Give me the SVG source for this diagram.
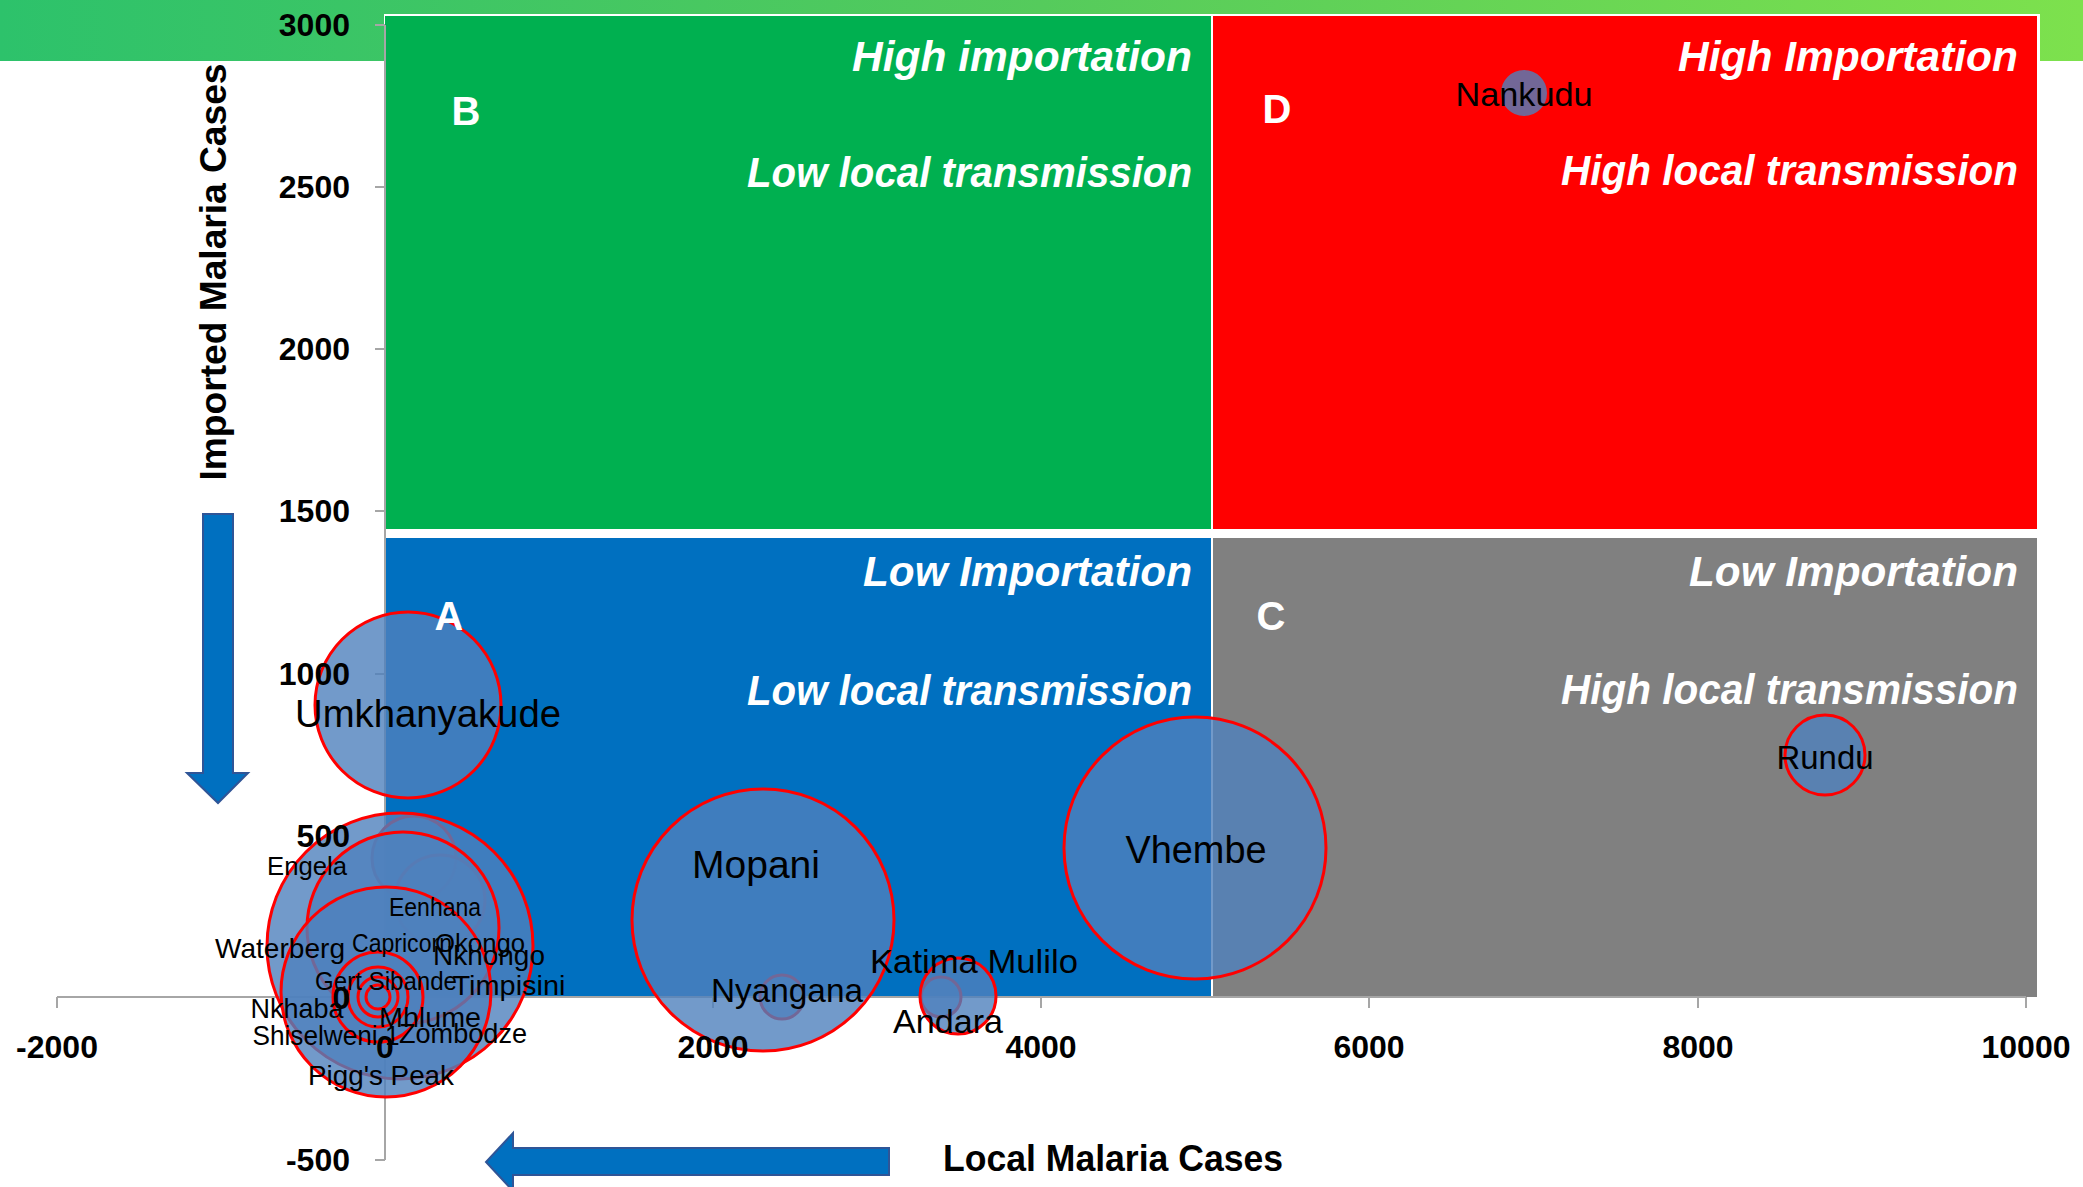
<svg xmlns="http://www.w3.org/2000/svg" width="2083" height="1187" viewBox="0 0 2083 1187">
<style>
.bub{fill:#4F81BD;fill-opacity:0.8;stroke:#FF0000;stroke-width:3}
.ax{stroke:#A6A6A6;stroke-width:2;fill:none}
.tk{font-family:"Liberation Sans",Arial,sans-serif;font-weight:bold;font-size:32px;fill:#000}
.ty{text-anchor:end}
.tx{text-anchor:middle}
.qt{font-family:"Liberation Sans",Arial,sans-serif;font-weight:bold;font-style:italic;font-size:42px;fill:#fff;text-anchor:end}
.ql{font-family:"Liberation Sans",Arial,sans-serif;font-weight:bold;font-size:40px;fill:#fff;text-anchor:middle}
.lb{font-family:"Liberation Sans",Arial,sans-serif;font-size:34px;fill:#000;text-anchor:middle}
.lbb{font-size:38px}
.ls{font-family:"Liberation Sans",Arial,sans-serif;font-size:25px;fill:#000;text-anchor:middle}
.lm{font-size:28px}
.at{font-family:"Liberation Sans",Arial,sans-serif;font-weight:bold;font-size:36px;fill:#000;text-anchor:middle}
.arr{fill:#0070C0;stroke:#2F5597;stroke-width:2}
</style>
<defs>
<linearGradient id="ban" x1="0" y1="0" x2="1" y2="0">
<stop offset="0" stop-color="#2DC26B"/>
<stop offset="0.5" stop-color="#55CB5C"/>
<stop offset="1" stop-color="#7DE14D"/>
</linearGradient>
</defs>
<rect x="0" y="0" width="2083" height="61" fill="url(#ban)"/>
<g id="panel">
<rect x="384" y="14" width="1656" height="984" fill="#fff"/>
<rect id="quadB" x="385" y="16" width="826" height="513" fill="#00B050"/>
<rect id="quadD" x="1213" y="16" width="824" height="513" fill="#FF0000"/>
<rect id="quadA" x="385" y="538" width="826" height="459" fill="#0070C0"/>
<rect id="quadC" x="1213" y="538" width="824" height="459" fill="#808080"/>
</g>
<g id="axis-lines">
<line class="ax" x1="385" y1="25" x2="385" y2="1160"/>
<path class="ax" d="M375 25H385M375 187H385M375 349H385M375 511H385M375 674H385M375 836H385M375 998H385M375 1160H385"/>
<line class="ax" x1="57" y1="997" x2="2026" y2="997"/>
<path class="ax" d="M57 997V1008M385 997V1008M713 997V1008M1041 997V1008M1369 997V1008M1698 997V1008M2026 997V1008"/>
</g>
<g id="bubbles">
<circle id="b-nankudu" class="bub" cx="1524" cy="93" r="24.5"/>
<circle id="b-rundu" class="bub" cx="1825" cy="755" r="40"/>
<circle id="b-vhembe" class="bub" cx="1195" cy="848" r="131"/>
<circle id="b-nyangana" class="bub" cx="782" cy="997" r="22"/>
<circle id="b-mopani" class="bub" cx="763" cy="920" r="131"/>
<circle id="b-andara" class="bub" cx="941" cy="997" r="20"/>
<circle id="b-katima" class="bub" cx="958" cy="996" r="38"/>
<circle id="b-umkhanyakude" class="bub" cx="408" cy="705" r="93"/>
<circle id="b-engela" class="bub" cx="414" cy="858" r="42"/>
<circle id="b-eenhana" class="bub" cx="440" cy="900" r="45"/>
<circle id="b-c1" class="bub" cx="400" cy="946" r="133"/>
<circle id="b-c2" class="bub" cx="403" cy="928" r="96"/>
<circle id="b-c3" class="bub" cx="386" cy="992" r="105"/>
<circle id="b-c4" class="bub" cx="378" cy="997" r="45"/>
<circle id="b-c5" class="bub" cx="378" cy="997" r="30"/>
<circle id="b-c6" class="bub" cx="378" cy="997" r="20"/>
<circle id="b-c7" class="bub" cx="378" cy="997" r="12"/>
</g>
<g id="tick-labels">
<text class="tk ty" x="350" y="36">3000</text>
<text class="tk ty" x="350" y="198">2500</text>
<text class="tk ty" x="350" y="360">2000</text>
<text class="tk ty" x="350" y="522">1500</text>
<text class="tk ty" x="350" y="685">1000</text>
<text class="tk ty" x="350" y="847">500</text>
<text class="tk ty" x="350" y="1009">0</text>
<text class="tk ty" x="350" y="1171">-500</text>
<text class="tk tx" x="57" y="1058">-2000</text>
<text class="tk tx" x="385" y="1058">0</text>
<text class="tk tx" x="713" y="1058">2000</text>
<text class="tk tx" x="1041" y="1058">4000</text>
<text class="tk tx" x="1369" y="1058">6000</text>
<text class="tk tx" x="1698" y="1058">8000</text>
<text class="tk tx" x="2026" y="1058">10000</text>
</g>
<g id="quadrant-labels">
<text class="ql" x="466" y="125">B</text>
<text class="qt" x="1192" y="71" textLength="340" lengthAdjust="spacingAndGlyphs">High importation</text>
<text class="qt" x="1192" y="187" textLength="445" lengthAdjust="spacingAndGlyphs">Low local transmission</text>
<text class="ql" x="1277" y="123">D</text>
<text class="qt" x="2018" y="71" textLength="340" lengthAdjust="spacingAndGlyphs">High Importation</text>
<text class="qt" x="2018" y="185" textLength="457" lengthAdjust="spacingAndGlyphs">High local transmission</text>
<text class="ql" x="449" y="630">A</text>
<text class="qt" x="1192" y="586" textLength="329" lengthAdjust="spacingAndGlyphs">Low Importation</text>
<text class="qt" x="1192" y="705" textLength="445" lengthAdjust="spacingAndGlyphs">Low local transmission</text>
<text class="ql" x="1271" y="630">C</text>
<text class="qt" x="2018" y="586" textLength="329" lengthAdjust="spacingAndGlyphs">Low Importation</text>
<text class="qt" x="2018" y="704" textLength="457" lengthAdjust="spacingAndGlyphs">High local transmission</text>
</g>
<g id="arrows">
<polygon id="arrow-down" class="arr" points="203,514 233,514 233,773 248,773 218,803 187,773 203,773"/>
<polygon id="arrow-left" class="arr" points="889,1148 889,1175 513,1175 513,1191 486,1162 513,1133 513,1148"/>
</g>
<text class="at" transform="translate(226,272) rotate(-90)" textLength="417" lengthAdjust="spacingAndGlyphs">Imported Malaria Cases</text>
<text class="at" x="1113" y="1171" textLength="340" lengthAdjust="spacingAndGlyphs">Local Malaria Cases</text>
<g id="bubble-labels">
<text class="lb" x="1524" y="106" textLength="137" lengthAdjust="spacingAndGlyphs">Nankudu</text>
<text class="lb" x="1825" y="769" textLength="97" lengthAdjust="spacingAndGlyphs">Rundu</text>
<text class="lb lbb" x="1196" y="863" textLength="141" lengthAdjust="spacingAndGlyphs">Vhembe</text>
<text class="lb lbb" x="756" y="878" textLength="128" lengthAdjust="spacingAndGlyphs">Mopani</text>
<text class="lb" x="787" y="1002" textLength="152" lengthAdjust="spacingAndGlyphs">Nyangana</text>
<text class="lb" x="974" y="973" textLength="208" lengthAdjust="spacingAndGlyphs">Katima Mulilo</text>
<text class="lb" x="948" y="1033" textLength="110" lengthAdjust="spacingAndGlyphs">Andara</text>
<text class="lb lbb" x="428" y="727" textLength="266" lengthAdjust="spacingAndGlyphs">Umkhanyakude</text>
<text class="ls" x="307" y="875" textLength="80" lengthAdjust="spacingAndGlyphs">Engela</text>
<text class="ls" x="435" y="916" textLength="92" lengthAdjust="spacingAndGlyphs">Eenhana</text>
<text class="ls lm" x="280" y="958" textLength="130" lengthAdjust="spacingAndGlyphs">Waterberg</text>
<text class="ls" x="402" y="952" textLength="100" lengthAdjust="spacingAndGlyphs">Capricorn</text>
<text class="ls" x="480" y="952" textLength="90" lengthAdjust="spacingAndGlyphs">Okongo</text>
<text class="ls lm" x="489" y="965" textLength="112" lengthAdjust="spacingAndGlyphs">Nkhongo</text>
<text class="ls" x="386" y="990" textLength="142" lengthAdjust="spacingAndGlyphs">Gert Sibande</text>
<text class="ls lm" x="509" y="995" textLength="113" lengthAdjust="spacingAndGlyphs">Timpisini</text>
<text class="ls lm" x="297" y="1018" textLength="93" lengthAdjust="spacingAndGlyphs">Nkhaba</text>
<text class="ls lm" x="430" y="1027" textLength="102" lengthAdjust="spacingAndGlyphs">Mhlume</text>
<text class="ls lm" x="326" y="1045" textLength="147" lengthAdjust="spacingAndGlyphs">Shiselweni 1</text>
<text class="ls lm" x="463" y="1043" textLength="128" lengthAdjust="spacingAndGlyphs">Zombodze</text>
<text class="ls lm" x="381" y="1085" textLength="146" lengthAdjust="spacingAndGlyphs">Pigg's Peak</text>
</g>
</svg>
